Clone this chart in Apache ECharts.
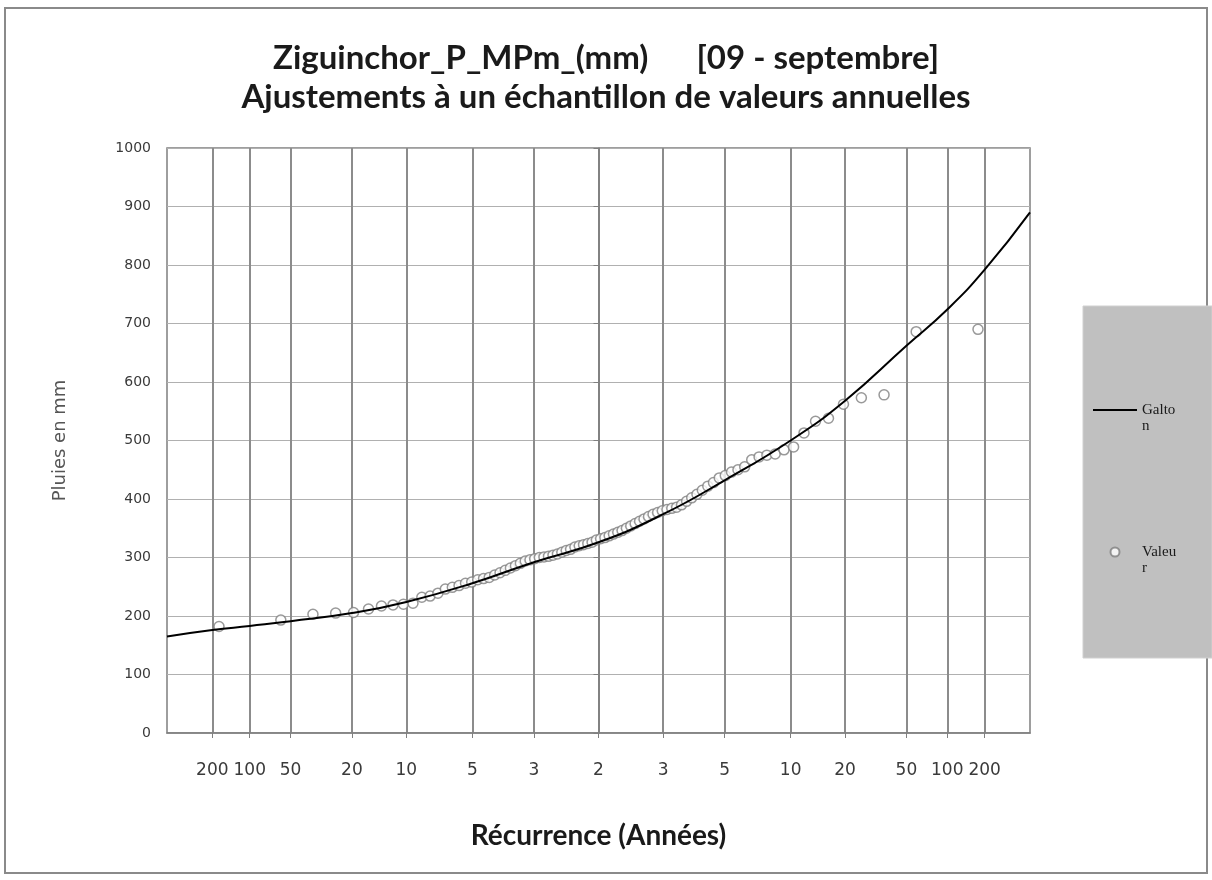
<!DOCTYPE html>
<html>
<head lang="fr">
	<meta charset="UTF-8">
	<title>Ziguinchor P MPm</title>
	<script type="text/javascript" src="https://cdn.jsdelivr.net/npm/echarts@6.0.0/dist/echarts.min.js"></script>
	<style>
		html, body { margin: 0; padding: 0; background: #fff; }
		#chart { width: 1212px; height: 880px; }
	</style>
</head>
<body>
<div id="chart"></div>
<script>
// axe des abscisses : echelle de Gauss, periodes de retour (annees seches a gauche, humides a droite)
var tickLabels = ['200', '100', '50', '20', '10', '5', '3', '2', '3', '5', '10', '20', '50', '100', '200'];
var tickProb = [0.005, 0.01, 0.02, 0.05, 0.1, 0.2, 1 / 3, 0.5, 2 / 3, 0.8, 0.9, 0.95, 0.98, 0.99, 0.995];
var axisProbRange = [0.002, 0.998];

// ajustement Galton
var galtonProb = [0.002, 0.005, 0.01, 0.02, 0.05, 0.1, 0.2, 1 / 3, 0.5, 2 / 3, 0.8, 0.9, 0.95, 0.98, 0.99, 0.995, 0.998];
var galtonVal = [165, 176, 183, 191, 205, 224, 256, 292, 326, 374, 432, 500, 568, 662, 724, 792, 890];

// echantillon trie des valeurs annuelles (mm)
var valeurs = [
	182, 193, 203, 205, 206, 212, 217, 219, 220, 222, 232, 234, 239, 246,
	249, 252, 256, 258, 262, 264, 266, 270, 274, 278, 282, 286, 290, 294, 296, 298,
	300, 301, 302, 304, 306, 309, 312, 314, 318, 320, 322, 324, 326, 330,
	332, 334, 337, 340, 343, 346, 350, 354, 358, 362, 366, 370, 374, 377, 380, 382,
	384, 386, 390, 396, 402, 408,
	415, 422, 428, 436, 440, 446, 450, 455, 467, 472, 475, 477, 484, 489, 513, 533,
	538, 562, 573, 578, 686, 690
];

// variable reduite de Gauss (Acklam)
function probit(p) {
	var a = [-39.69683028665376, 220.9460984245205, -275.9285104469687, 138.3577518672690, -30.66479806614716, 2.506628277459239];
	var b = [-54.47609879822406, 161.5858368580409, -155.6989798598866, 66.80131188771972, -13.28068155288572];
	var c = [-0.007784894002430293, -0.3223964580411365, -2.400758277161838, -2.549732539343734, 4.374664141464968, 2.938163982698783];
	var d = [0.007784695709041462, 0.3224671290700398, 2.445134137142996, 3.754408661907416];
	var pl = 0.02425, q, r;
	if (p < pl) {
		q = Math.sqrt(-2 * Math.log(p));
		return (((((c[0] * q + c[1]) * q + c[2]) * q + c[3]) * q + c[4]) * q + c[5]) / ((((d[0] * q + d[1]) * q + d[2]) * q + d[3]) * q + 1);
	}
	if (p > 1 - pl) {
		q = Math.sqrt(-2 * Math.log(1 - p));
		return -(((((c[0] * q + c[1]) * q + c[2]) * q + c[3]) * q + c[4]) * q + c[5]) / ((((d[0] * q + d[1]) * q + d[2]) * q + d[3]) * q + 1);
	}
	q = p - 0.5;
	r = q * q;
	return (((((a[0] * r + a[1]) * r + a[2]) * r + a[3]) * r + a[4]) * r + a[5]) * q / (((((b[0] * r + b[1]) * r + b[2]) * r + b[3]) * r + b[4]) * r + 1);
}

var tickZ = tickProb.map(probit);

var galtonData = [];
for (var i = 0; i < galtonProb.length; i++) {
	galtonData.push([probit(galtonProb[i]), galtonVal[i]]);
}
// frequences de Hazen
var valeurData = [];
for (var j = 0; j < valeurs.length; j++) {
	valeurData.push([probit((j + 0.5) / valeurs.length), valeurs[j]]);
}

function labelFor(v) {
	for (var k = 0; k < tickZ.length; k++) {
		if (Math.abs(tickZ[k] - v) < 1e-6) return tickLabels[k];
	}
	return '';
}

var myChart = echarts.init(document.getElementById('chart'));
var option = {
	backgroundColor: '#fff',
	animation: false,
	title: [
		{
			text: 'Ziguinchor_P_MPm_(mm)      [09 - septembre]',
			left: 'center',
			top: 37,
			textStyle: { fontFamily: 'Lato', fontWeight: 'bold', fontSize: 33, color: '#1a1a1a' }
		},
		{
			text: 'Ajustements à un échantillon de valeurs annuelles',
			left: 'center',
			top: 76,
			textStyle: { fontFamily: 'Lato', fontWeight: 'bold', fontSize: 33, color: '#1a1a1a' }
		}
	],
	graphic: [
		{
			type: 'rect',
			z: -10,
			shape: { x: 5, y: 8, width: 1202, height: 865 },
			style: { fill: 'none', stroke: '#8a8a8a', lineWidth: 2 }
		},
		{
			type: 'rect',
			z: -5,
			shape: { x: 1083, y: 306, width: 129, height: 352 },
			style: { fill: '#c0c0c0', stroke: '#d0d0d0', lineWidth: 1 }
		}
	],
	legend: {
		orient: 'vertical',
		left: 1087,
		top: 381,
		itemWidth: 44,
		itemHeight: 9,
		itemGap: 94,
		formatter: function (name) {
			return '\n' + name.slice(0, 5) + '\n' + name.slice(5);
		},
		textStyle: {
			fontFamily: 'Liberation Serif',
			fontSize: 15,
			lineHeight: 16,
			color: '#1a1a1a'
		},
		data: [
			{ name: 'Galton', itemStyle: { opacity: 0 } },
			{ name: 'Valeur' }
		]
	},
	grid: {
		left: 167,
		top: 148,
		right: 182,
		bottom: 147,
		show: true,
		borderColor: '#7f7f7f',
		borderWidth: 1.5
	},
	xAxis: {
		type: 'value',
		min: probit(axisProbRange[0]),
		max: probit(axisProbRange[1]),
		name: 'Récurrence (Années)',
		nameLocation: 'middle',
		nameGap: 89,
		nameTextStyle: { fontFamily: 'Lato', fontWeight: 'bold', fontSize: 28, color: '#1a1a1a' },
		axisLine: { onZero: false, lineStyle: { color: '#7f7f7f', width: 1.5 } },
		axisTick: { show: true, length: 5, customValues: tickZ, lineStyle: { color: '#7f7f7f' } },
		axisLabel: {
			customValues: tickZ,
			margin: 29,
			fontFamily: 'DejaVu Sans',
			fontSize: 17,
			color: '#3a3a3a',
			formatter: labelFor
		},
		splitLine: { show: true, lineStyle: { color: '#8c8c8c', width: 2 } }
	},
	yAxis: {
		type: 'value',
		min: 0,
		max: 1000,
		interval: 100,
		name: 'Pluies en mm',
		nameLocation: 'middle',
		nameGap: 98,
		nameTextStyle: { fontFamily: 'DejaVu Sans', fontSize: 18, color: '#555' },
		axisLine: { show: true, lineStyle: { color: '#7f7f7f', width: 1.5 } },
		axisTick: { show: true, length: 5, lineStyle: { color: '#7f7f7f' } },
		axisLabel: {
			margin: 16,
			fontFamily: 'DejaVu Sans',
			fontSize: 14,
			color: '#3a3a3a',
			formatter: function (v) { return String(v); }
		},
		splitLine: { show: true, lineStyle: { color: '#b0b0b0', width: 1 } }
	},
	series: [
		{
			name: 'Galton',
			type: 'line',
			data: galtonData,
			smooth: true,
			symbol: 'none',
			lineStyle: { color: '#000', width: 2 },
			itemStyle: { color: '#000' }
		},
		{
			name: 'Valeur',
			type: 'scatter',
			data: valeurData,
			symbol: 'circle',
			symbolSize: 10,
			itemStyle: { color: '#fff', borderColor: '#808080', borderWidth: 1.5 }
		}
	]
};
myChart.setOption(option);
</script>
</body>
</html>
